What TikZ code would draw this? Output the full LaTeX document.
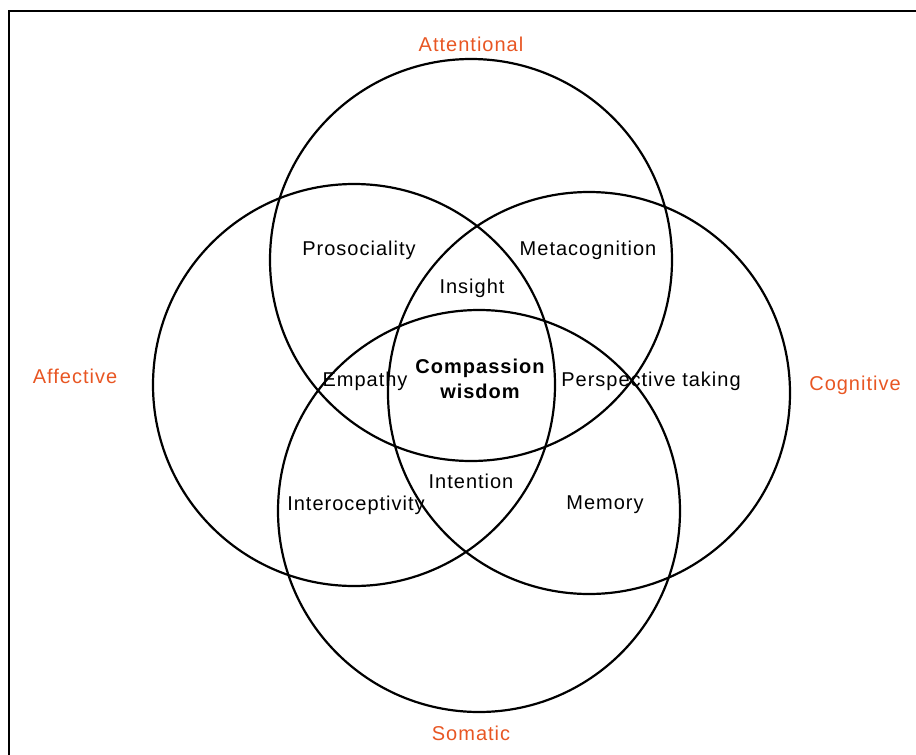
\documentclass[tikz,border=0pt]{standalone}
\usepackage{fontspec}
\setmainfont{Liberation Sans}[LetterSpace=5]
\definecolor{domain}{RGB}{232,86,35}
\begin{document}
\begin{tikzpicture}[x=1pt, y=-1pt,
  ring/.style={line width=2.2pt},
  facet/.style={font=\fontsize{20}{24}\selectfont, text=domain},
  part/.style={font=\fontsize{20}{24}\selectfont},
  core/.style={font=\fontsize{20}{25}\selectfont\bfseries, align=center}]
\useasboundingbox (0,0) rectangle (916,755);
\draw [line width=2.5pt] (9,756) -- (9,11) -- (917,11);
\draw [ring] (471,260) circle (201);
\draw [ring] (354,385) circle (201);
\draw [ring] (589,393) circle (201);
\draw [ring] (479,511) circle (201);
\node [facet] (attn) at (471,44) {Attentional};
\node [facet] (affe) at (75,376) {Affective};
\node [facet] (cogn) at (855,385) {Cognitive};
\node [facet] (soma) at (471,733) {Somatic};
\node [part] (pros) at (359,250) {Prosociality};
\node [part] (meta) at (588,250) {Metacognition};
\node [part] (insi) at (472,288) {Insight};
\node [core] (comp) at (480,379) {Compassion\\wisdom};
\node [part] (empa) at (365,381) {Empathy};
\node [part] (pers) at (651,381) {Perspective taking};
\node [part] (inte) at (471,481) {Intention};
\node [part] (intc) at (356,505) {Interoceptivity};
\node [part] (memo) at (605,505) {Memory};
\end{tikzpicture}
\end{document}
